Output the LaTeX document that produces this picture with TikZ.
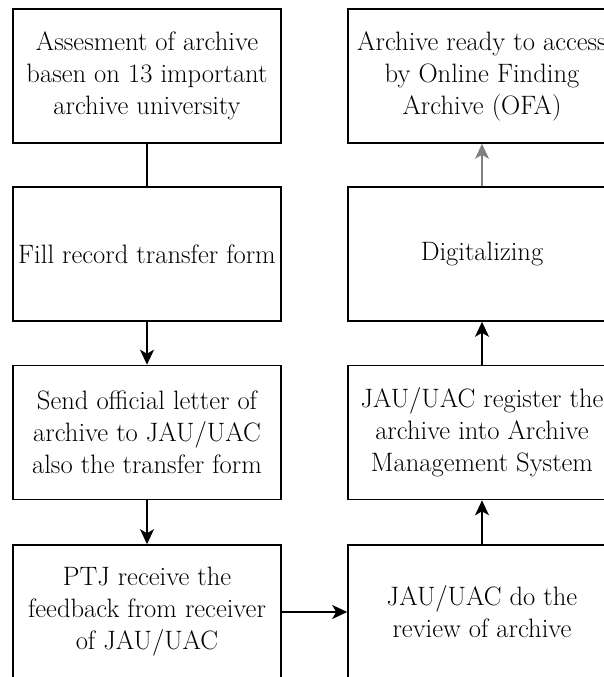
\documentclass[tikz,border=0pt]{standalone}
\usepackage{fontspec}
\usetikzlibrary{arrows.meta}
\tikzset{
  stepbox/.style={draw=black, line width=1.6pt, fill=white, minimum width=268pt, minimum height=134pt, align=center, inner sep=0pt, font=\fontsize{26.6}{32}\selectfont, text=black},
  flow/.style={draw=black, line width=1.6pt, -{Stealth[length=15pt, width=14pt, inset=4pt]}},
  plainline/.style={draw=black, line width=1.6pt}
}
\begin{document}
\begin{tikzpicture}[x=1pt, y=-1pt]
\useasboundingbox (0,0) rectangle (604,677);
\node[stepbox] (a1) at (147,76) {Assesment of archive\\basen on 13 important\\archive university};
\node[stepbox] (a2) at (147,254) {Fill record transfer form};
\node[stepbox] (a3) at (147,432.5) {Send official letter of\\archive to JAU/UAC\\also the transfer form};
\node[stepbox] (a4) at (147,612) {PTJ receive the\\feedback from receiver\\of JAU/UAC};
\node[stepbox] (b1) at (482,76) {Archive ready to access\\by Online Finding\\Archive (OFA)};
\node[stepbox] (b2) at (482,254) {Digitalizing};
\node[stepbox] (b3) at (482,432.5) {JAU/UAC register the\\archive into Archive\\Management System};
\node[stepbox] (b4) at (482,612) {JAU/UAC do the\\review of archive};
\draw[plainline] (a1) -- (a2);
\draw[flow] (a2) -- (a3);
\draw[flow] (a3) -- (a4);
\draw[flow] (a4) -- (b4);
\draw[flow] (b4) -- (b3);
\draw[flow] (b3) -- (b2);
\draw[flow, draw=gray] (b2) -- (b1);
\end{tikzpicture}
\end{document}
